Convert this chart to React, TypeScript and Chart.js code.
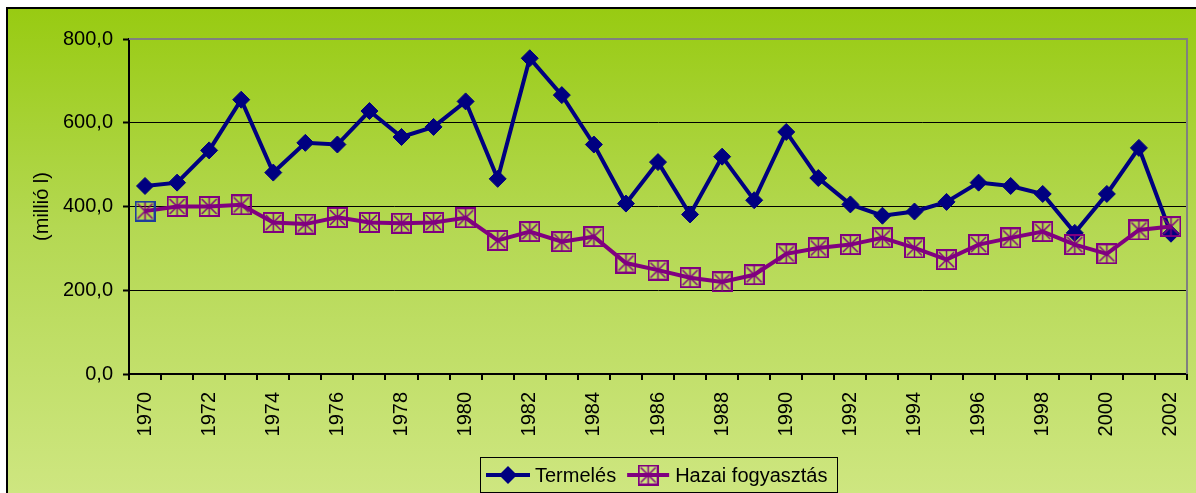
import React, { useEffect, useRef } from 'react';
import { Chart, registerables } from 'chart.js';

Chart.register(...registerables);

const years = [
  '1970', '1971', '1972', '1973', '1974', '1975', '1976', '1977', '1978', '1979', '1980',
  '1981', '1982', '1983', '1984', '1985', '1986', '1987', '1988', '1989', '1990', '1991',
  '1992', '1993', '1994', '1995', '1996', '1997', '1998', '1999', '2000', '2001', '2002',
];
const termeles = [
  449, 457, 534, 655, 481, 552, 548, 628, 566, 590, 651, 466, 754, 666, 548,
  407, 506, 381, 519, 415, 578, 468, 405, 378, 388, 411, 457, 449, 430, 337, 430, 540, 335,
];
const hazai = [
  389, 400, 400, 404, 362, 358, 374, 362, 360, 362, 373, 319, 340, 316, 328,
  265, 248, 230, 220, 237, 287, 301, 309, 325, 301, 273, 309, 325, 340, 309, 287, 344, 352,
];
const seriesNames = ['Termelés', 'Hazai fogyasztás'];
const yAxisTitle = '(millió l)';

const FONT = '"Liberation Sans", Arial, sans-serif';
const NAVY = '#000080';
const PURPLE = '#800080';

function makeBoxMarker(border: string) {
  const c = document.createElement('canvas');
  c.width = 21;
  c.height = 21;
  const g = c.getContext('2d')!;
  g.strokeStyle = border;
  g.lineWidth = 2;
  g.strokeRect(1, 1, 19, 19);
  g.strokeStyle = PURPLE;
  g.lineWidth = 1.5;
  g.beginPath();
  g.moveTo(3, 3);
  g.lineTo(18, 18);
  g.moveTo(18, 3);
  g.lineTo(3, 18);
  g.moveTo(10.5, 2);
  g.lineTo(10.5, 19);
  g.stroke();
  return c;
}

export default function App() {
  const ref = useRef<HTMLCanvasElement>(null);

  useEffect(() => {
    document.body.style.overflow = 'hidden';
    const purpleMarker = makeBoxMarker(PURPLE);
    const blueMarker = makeBoxMarker('#1f3c9c');

    const plotBorder = {
      id: 'plotBorder',
      beforeDatasetsDraw(chart: any) {
        const { ctx, chartArea } = chart;
        const { left, right, top, bottom } = chartArea;
        ctx.save();
        ctx.strokeStyle = '#808080';
        ctx.lineWidth = 2;
        ctx.beginPath();
        ctx.moveTo(left, top);
        ctx.lineTo(right, top);
        ctx.lineTo(right, bottom);
        ctx.stroke();
        ctx.restore();
      },
    };

    const boxLegend = {
      id: 'boxLegend',
      afterDraw(chart: any) {
        const { ctx, chartArea } = chart;
        const { left, right } = chartArea;
        ctx.save();
        ctx.font = `20px ${FONT}`;
        const tw1 = ctx.measureText(seriesNames[0]).width;
        const tw2 = ctx.measureText(seriesNames[1]).width;
        const w = Math.round(6 + 44 + 5 + tw1 + 11 + 42 + 6 + tw2 + 10);
        const cx = (left + right) / 2;
        const x0 = Math.round(cx - w / 2);
        const y0 = 448;
        const h = 35;
        ctx.strokeStyle = '#000';
        ctx.lineWidth = 1;
        ctx.strokeRect(x0 + 0.5, y0 + 0.5, w, h);
        const cy = y0 + h / 2 + 0.5;

        let x = x0 + 6;
        ctx.strokeStyle = NAVY;
        ctx.lineWidth = 4;
        ctx.beginPath();
        ctx.moveTo(x, cy);
        ctx.lineTo(x + 44, cy);
        ctx.stroke();
        const dx = x + 22;
        ctx.fillStyle = NAVY;
        ctx.beginPath();
        ctx.moveTo(dx, cy - 9);
        ctx.lineTo(dx + 9, cy);
        ctx.lineTo(dx, cy + 9);
        ctx.lineTo(dx - 9, cy);
        ctx.closePath();
        ctx.fill();
        x += 44 + 5;
        ctx.fillStyle = '#000';
        ctx.textBaseline = 'middle';
        ctx.textAlign = 'left';
        ctx.fillText(seriesNames[0], x, cy + 1);
        x += tw1 + 11;

        ctx.strokeStyle = PURPLE;
        ctx.lineWidth = 4;
        ctx.beginPath();
        ctx.moveTo(x, cy);
        ctx.lineTo(x + 42, cy);
        ctx.stroke();
        ctx.drawImage(purpleMarker, x + 21 - 10.5, cy - 10.5);
        x += 42 + 6;
        ctx.fillStyle = '#000';
        ctx.fillText(seriesNames[1], x, cy + 1);
        ctx.restore();
      },
    };

    const chart = new Chart(ref.current!, {
      type: 'line',
      data: {
        labels: years,
        datasets: [
          {
            label: seriesNames[0],
            data: termeles,
            borderColor: NAVY,
            backgroundColor: NAVY,
            borderWidth: 4,
            pointStyle: 'rectRot',
            pointRadius: 8.5,
            pointBorderWidth: 1,
            pointBackgroundColor: NAVY,
            pointBorderColor: NAVY,
            tension: 0,
            order: 1,
          },
          {
            label: seriesNames[1],
            data: hazai,
            borderColor: PURPLE,
            backgroundColor: PURPLE,
            borderWidth: 4,
            pointStyle: hazai.map((_, i) => (i === 0 ? blueMarker : purpleMarker)) as any,
            pointRadius: 10,
            tension: 0,
            order: 0,
          },
        ],
      },
      options: {
        responsive: false,
        animation: false,
        events: [],
        layout: { autoPadding: false, padding: { left: 0, top: 30, right: 9, bottom: 39 } },
        plugins: {
          legend: { display: false },
          tooltip: { enabled: false },
        },
        scales: {
          x: {
            type: 'category',
            offset: true,
            afterFit: (s: any) => {
              s.height = 80;
              s.paddingLeft = 0;
              s.paddingRight = 0;
            },
            grid: {
              display: true,
              drawOnChartArea: false,
              drawTicks: true,
              tickLength: 6,
              offset: true,
              color: '#000',
              lineWidth: 2,
            },
            border: { display: true, color: '#000', width: 2 },
            ticks: {
              autoSkip: false,
              maxRotation: 90,
              minRotation: 90,
              padding: 12,
              color: '#000',
              font: { size: 20, family: FONT },
              callback: (_v: any, i: number) => (i % 2 === 0 ? years[i] : ''),
            },
          },
          y: {
            min: 0,
            max: 800,
            afterFit: (s: any) => {
              s.width = 121;
              s.paddingTop = 0;
              s.paddingBottom = 0;
            },
            grid: {
              color: '#000',
              lineWidth: 1,
              tickLength: 6,
              tickColor: '#000',
              tickWidth: 2,
            },
            border: { display: true, color: '#000', width: 2 },
            ticks: {
              stepSize: 200,
              padding: 10,
              color: '#000',
              font: { size: 20, family: FONT },
              callback: (v: any) => Number(v).toFixed(1).replace('.', ','),
            },
            title: {
              display: true,
              text: yAxisTitle,
              color: '#000',
              font: { size: 20, family: FONT },
              padding: { top: 22, bottom: 0 },
            },
          },
        },
      },
      plugins: [plotBorder, boxLegend],
    });
    return () => chart.destroy();
  }, []);

  return (
    <div
      style={{
        position: 'absolute',
        left: 6,
        top: 7,
        width: 1188,
        height: 484,
        borderTop: '2px solid #000',
        borderLeft: '2px solid #000',
        background: 'linear-gradient(180deg, #98cb12 0%, #b4d852 45%, #cee680 100%)',
      }}
    >
      <canvas ref={ref} width={1188} height={484} style={{ display: 'block', width: 1188, height: 484 }} />
    </div>
  );
}
